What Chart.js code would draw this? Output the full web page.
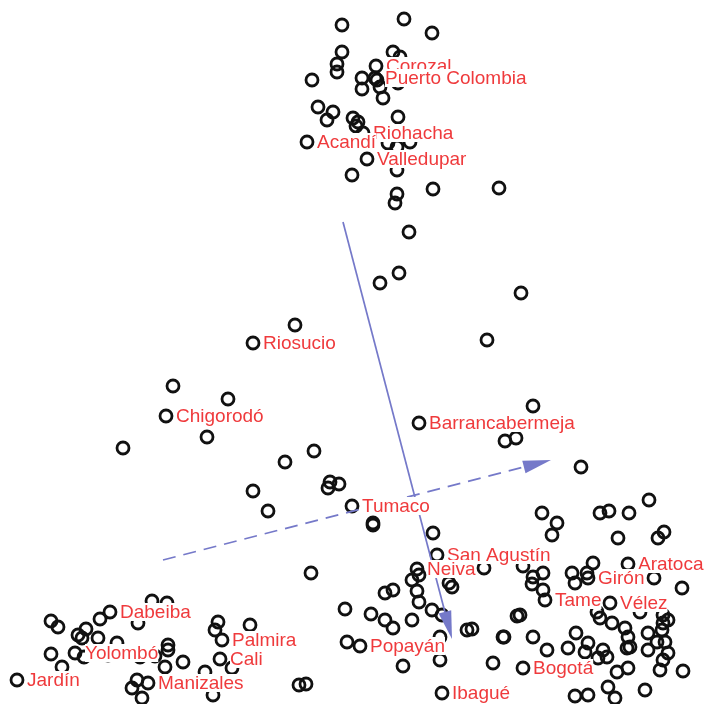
<!DOCTYPE html>
<html>
<head>
<meta charset="utf-8">
<script src="https://cdn.jsdelivr.net/npm/chart.js@4/dist/chart.umd.min.js"></script>
<style>
  html, body { margin: 0; padding: 0; background: #ffffff; }
  #wrap { width: 706px; height: 704px; }
</style>
</head>
<body>
<div id="wrap"><canvas id="c" width="706" height="704"></canvas></div>
<script>
// Municipalities on the first two components (unlabelled sites)
const siteX = [
  342,404,432,342,393,400,337,337,312,362,377,362,380,383,398,318,333,327,353,358,356,398,388,397,410,352,433,499,397,397,395,
  409,399,380,521,487,
  295,173,228,207,123,314,285,330,339,328,253,268,373,373,533,505,516,581,433,
  311,419,484,412,449,452,385,393,417,419,345,371,385,393,412,432,442,467,472,503,517,347,440,440,403,493,306,523,
  542,557,552,600,609,629,649,618,658,664,593,533,543,572,587,654,532,682,575,543,520,597,600,612,625,628,648,663,668,663,662,
  504,533,576,588,585,657,665,668,663,547,568,603,607,598,627,630,648,617,628,660,683,608,645,575,588,615,640,
  51,58,86,78,82,100,98,51,62,84,117,138,152,167,168,168,165,183,137,132,142,218,215,250,232,205,213,299,108,140,155
];
const siteY = [
  25,19,33,52,52,57,64,72,80,78,80,89,87,98,83,107,112,120,118,122,126,117,143,147,142,175,189,188,170,194,203,
  232,273,283,293,340,
  325,386,399,437,448,451,462,482,484,488,491,511,523,525,406,441,438,467,533,
  573,575,568,580,583,587,593,590,591,602,609,614,620,628,620,610,615,630,629,637,616,642,637,660,666,663,684,566,
  513,523,535,513,511,513,500,538,538,532,563,577,573,573,573,578,584,588,583,590,615,612,618,623,628,637,633,615,620,623,630,
  637,637,633,643,652,642,642,653,660,650,648,650,657,658,648,647,650,672,668,670,671,687,690,696,695,698,612,
  621,627,629,635,638,619,638,654,667,657,643,623,601,603,645,650,667,662,680,688,698,622,630,625,668,672,695,685,655,657,656
];

// Named municipalities
const cityNames = ["Corozal","Puerto Colombia","Riohacha","Acandí","Valledupar","Riosucio","Chigorodó",
  "Barrancabermeja","Tumaco","San Agustín","Neiva","Popayán","Ibagué","Aratoca","Girón","Tame","Vélez",
  "Bogotá","Dabeiba","Yolombó","Jardín","Manizales","Palmira","Cali"];
const cityX = [376,375,363,307,367,253,166,419,352,437,417,360,442,628,588,545,610,523,110,75,17,148,222,220];
const cityY = [66,78,133,142,159,343,416,423,506,555,569,646,693,564,578,600,603,668,612,653,680,683,640,659];

// Variable loadings drawn as arrows: [x0, y0, x1, y1]
const arrowSolid = [343, 222, 452, 639];
const arrowDashed = [163, 560, 551, 460];

const pts = siteX.map((x, i) => ({ x: x, y: siteY[i] }));
const cityPts = cityX.map((x, i) => ({ x: x, y: cityY[i] }));

const ARROW_COLOR = '#7579c9';
const LABEL_COLOR = '#ef3a3c';

function drawArrow(ctx, sx, sy, ex, ey, dashed) {
  const ang = Math.atan2(ey - sy, ex - sx);
  const headLen = 28, headHalf = 6.5;
  const bx = ex - headLen * Math.cos(ang), by = ey - headLen * Math.sin(ang);
  ctx.save();
  ctx.strokeStyle = ARROW_COLOR;
  ctx.fillStyle = ARROW_COLOR;
  ctx.lineWidth = 1.7;
  ctx.setLineDash(dashed ? [13, 8] : []);
  ctx.beginPath();
  ctx.moveTo(sx, sy);
  ctx.lineTo(bx, by);
  ctx.stroke();
  ctx.setLineDash([]);
  ctx.beginPath();
  ctx.moveTo(ex, ey);
  ctx.lineTo(bx + headHalf * Math.sin(ang), by - headHalf * Math.cos(ang));
  ctx.lineTo(bx - headHalf * Math.sin(ang), by + headHalf * Math.cos(ang));
  ctx.closePath();
  ctx.fill();
  ctx.restore();
}

const overlay = {
  id: 'overlay',
  afterDatasetsDraw(chart) {
    const ctx = chart.ctx;
    const xs = chart.scales.x, ys = chart.scales.y;
    const px = v => xs.getPixelForValue(v), py = v => ys.getPixelForValue(v);
    drawArrow(ctx, px(arrowSolid[0]), py(arrowSolid[1]), px(arrowSolid[2]), py(arrowSolid[3]), false);
    drawArrow(ctx, px(arrowDashed[0]), py(arrowDashed[1]), px(arrowDashed[2]), py(arrowDashed[3]), true);

    ctx.save();
    ctx.font = '19px "Liberation Sans", Arial, sans-serif';
    ctx.textBaseline = 'middle';
    ctx.textAlign = 'left';
    cityNames.forEach((name, i) => {
      const x = px(cityX[i]) + 10, y = py(cityY[i]);
      const w = ctx.measureText(name).width;
      ctx.fillStyle = '#ffffff';
      ctx.fillRect(x, y - 9, w, 18);
      ctx.fillStyle = LABEL_COLOR;
      ctx.fillText(name, x, y + 1);
    });
    ctx.restore();
  }
};

const pointStyle = {
  pointRadius: 6,
  pointBorderWidth: 2.8,
  pointBorderColor: '#111111',
  pointBackgroundColor: 'rgba(0,0,0,0)',
  showLine: false
};

new Chart(document.getElementById('c'), {
  type: 'scatter',
  data: {
    datasets: [
      Object.assign({ label: 'sites', data: pts }, pointStyle),
      Object.assign({ label: 'named', data: cityPts }, pointStyle)
    ]
  },
  options: {
    responsive: false,
    animation: false,
    layout: { padding: 0, autoPadding: false },
    plugins: { legend: { display: false }, tooltip: { enabled: false } },
    scales: {
      x: { type: 'linear', min: 0, max: 706, display: false },
      y: { type: 'linear', min: 0, max: 704, reverse: true, display: false }
    }
  },
  plugins: [overlay]
});
</script>
</body>
</html>
